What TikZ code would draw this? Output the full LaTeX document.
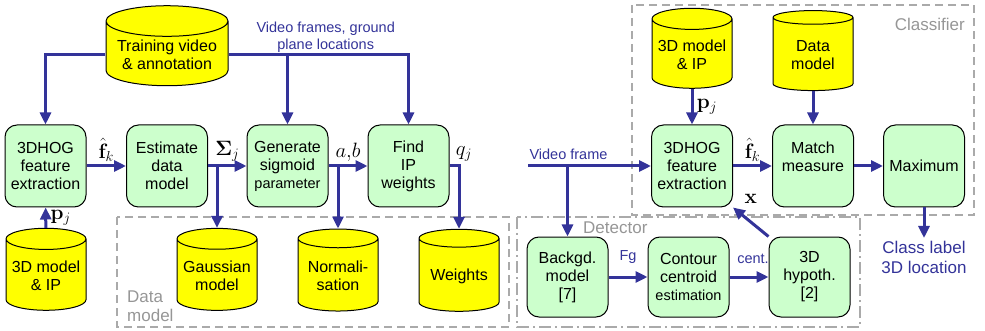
\documentclass[tikz,border=0pt]{standalone}
\usepackage[no-math]{fontspec}
\setmainfont{Liberation Sans}
\usetikzlibrary{shapes.geometric,arrows.meta}
\definecolor{flowblue}{RGB}{51,51,153}
\definecolor{procgreen}{RGB}{204,255,204}
\definecolor{storeyellow}{RGB}{255,255,0}
\definecolor{grpgray}{RGB}{170,170,170}
\definecolor{grptext}{RGB}{150,150,150}
\begin{document}
\begin{tikzpicture}[x=1pt,y=-1pt,>={Triangle[length=12pt,width=11pt]},
  proc/.style={draw,line width=1pt,fill=procgreen,rounded corners=12pt,minimum width=81pt,minimum height=82pt,inner sep=1pt,align=center,font=\fontsize{16}{18}\selectfont},
  store/.style={draw,line width=1pt,fill=storeyellow,cylinder,shape border rotate=90,aspect=0.3,minimum width=80pt,minimum height=82pt,inner sep=1pt,align=center,font=\fontsize{16}{18}\selectfont},
  flow/.style={->,draw=flowblue,line width=3pt},
  sym/.style={font=\fontsize{21}{25}\selectfont},
  note/.style={text=flowblue,align=center,font=\fontsize{14.5}{17}\selectfont},
  grp/.style={draw=grpgray,line width=1.5pt,dash pattern=on 8pt off 5pt},
  grpname/.style={text=grptext,align=left,inner sep=0pt,font=\fontsize{17}{19}\selectfont}]
\useasboundingbox (0,0) rectangle (985,331);
\draw[grp] (117,217) rectangle (509,327);
\draw[grp] (632,5) rectangle (974,215);
\draw[grp,dash pattern=on 12pt off 4pt on 2pt off 4pt] (517,217) rectangle (860,327);
\node[grpname,anchor=north west] (dmname) at (127,291) {Data\\model};
\node[grpname,anchor=north east] (clname) at (965,18) {Classifier};
\node[grpname,anchor=north west] (dtname) at (583,222) {Detector};

\node[store,minimum width=122pt,minimum height=80pt] (train) at (167,55) {Training video\\\& annotation};
\node[proc] (hogA) at (45.5,166) {3DHOG\\feature\\extraction};
\node[proc] (est) at (167,166) {Estimate\\data\\model};
\node[proc] (gen) at (287.5,166) {Generate\\sigmoid\\{\fontsize{14.5}{18}\selectfont parameter}};
\node[proc] (find) at (408.5,166) {Find\\IP\\weights};
\node[store] (modelA) at (46,276) {3D model\\\& IP};
\node[store] (gauss) at (217,276) {Gaussian\\model};
\node[store] (norm) at (338,276) {Normali-\\sation};
\node[store] (wts) at (459,276) {Weights};

\node[store,minimum height=80pt] (modelB) at (692,55) {3D model\\\& IP};
\node[store,minimum height=80pt] (datam) at (813,55) {Data\\model};
\node[proc] (hogB) at (692,166) {3DHOG\\feature\\extraction};
\node[proc] (match) at (813,166) {Match\\measure\\\mbox{}};
\node[proc] (maxm) at (924,166) {Maximum};
\node[note,anchor=north,font=\fontsize{17}{20}\selectfont] (clslbl) at (924,238) {Class label\\3D location};

\node[proc,minimum height=80pt] (bkg) at (567.5,277) {Backgd.\\model\\{[7]}};
\node[proc,minimum height=80pt] (cont) at (688.5,277) {Contour\\centroid\\{\fontsize{14.5}{18}\selectfont estimation}};
\node[proc,minimum height=80pt] (hyp) at (809.5,277) {3D\\hypoth.\\{[2]}};

\draw[flow] (train.west) -| (hogA.north);
\draw[flow] (train.east) -| node[note,pos=0.27,above,inner sep=1pt]{Video frames, ground\\plane locations} (find.north);
\draw[flow] (gen.north |- train.east) -- (gen.north);
\draw[flow] (hogA) -- node[sym,above]{$\hat{\mathbf f}_k$} (est);
\draw[flow] (est) -- node[sym,above]{$\mathbf\Sigma_j$} (gen);
\draw[flow] (gen) -- node[sym,above]{$a{,}b$} (find);
\draw[flow] (find.east) -| node[sym,pos=0.5,above right,xshift=-8pt]{$q_j$} (wts.north);
\draw[flow] (gauss.north |- est.east) -- (gauss.north);
\draw[flow] (norm.north |- gen.east) -- (norm.north);
\draw[flow] (modelA) -- node[sym,right]{$\mathbf p_j$} (hogA);

\coordinate (vf) at (528,166);
\draw[flow] (vf) node[note,above right,inner sep=0pt,yshift=5pt]{Video frame} -- (hogB);
\draw[flow] (bkg.north |- vf) -- (bkg.north);
\draw[flow] (modelB) -- node[sym,right]{$\mathbf p_j$} (hogB);
\draw[flow] (datam) -- (match);
\draw[flow] (hogB) -- node[sym,above]{$\hat{\mathbf f}_k$} (match);
\draw[flow] (match) -- (maxm);
\draw[flow] (maxm) -- (clslbl);
\draw[flow] (bkg) -- node[note,above=9pt]{Fg} (cont);
\draw[flow] (cont) -- node[note,above=9pt,xshift=4pt]{cent.} (hyp);
\draw[flow] (hyp.north west) -- node[sym,above=14pt]{$\mathbf x$} (hogB.south east);
\end{tikzpicture}
\end{document}
